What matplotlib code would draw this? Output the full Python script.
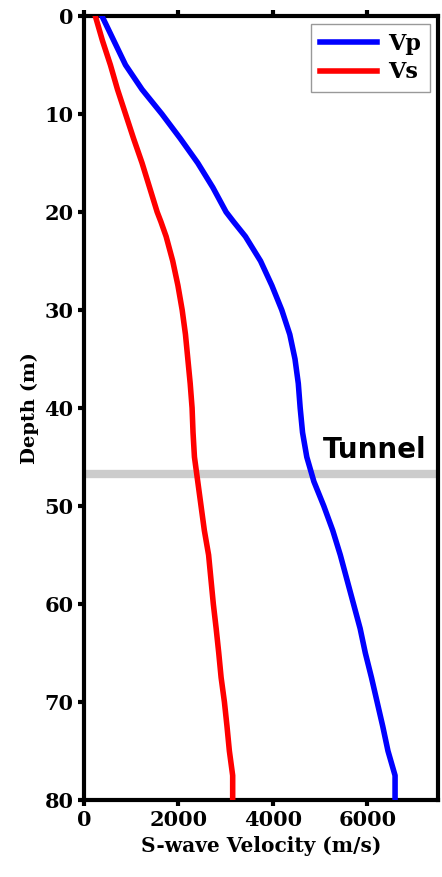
import numpy as np
import matplotlib
matplotlib.use("Agg")
import matplotlib.pyplot as plt

# profundidades (m) y velocidades (m/s)
depth = [0, 2.5, 5, 7.5, 10, 12.5, 15, 17.5, 20, 21, 22.5, 25, 27.5, 30, 32.5, 35,
         37.5, 40, 42.5, 45, 47.5, 50, 52.5, 55, 57.5, 60, 62.5, 65, 67.5, 70,
         72.5, 75, 77.5, 80]
vp = [380, 630, 880, 1230, 1650, 2040, 2410, 2730, 3010, 3170, 3420, 3740, 3980,
      4190, 4360, 4470, 4540, 4580, 4630, 4720, 4870, 5080, 5270, 5430, 5570,
      5710, 5850, 5960, 6090, 6210, 6330, 6440, 6590, 6590]
vs = [240, 390, 560, 710, 880, 1050, 1230, 1390, 1550, 1630, 1740, 1880, 1990,
      2080, 2150, 2200, 2250, 2290, 2310, 2340, 2410, 2480, 2550, 2640, 2690,
      2740, 2800, 2855, 2905, 2975, 3030, 3080, 3150, 3150]

tunnel_depth = 46.7
xticks = [0, 2000, 4000, 6000]
yticks = [0, 10, 20, 30, 40, 50, 60, 70, 80]

plt.rcParams['font.family'] = 'DejaVu Serif'
plt.rcParams['font.weight'] = 'bold'

fig = plt.figure(figsize=(4.42, 8.77), dpi=100)
ax = fig.add_axes([0.19, 0.0878, 0.801, 0.894])

ax.axhline(tunnel_depth, color='#cccccc', lw=6, zorder=1)
ax.plot(vp, depth, color='blue', lw=4, label='Vp', zorder=3)
ax.plot(vs, depth, color='red', lw=4, label='Vs', zorder=3)

ax.text(7250, 45.1, 'Tunnel', family='DejaVu Sans', fontweight='bold',
        fontsize=20, ha='right', va='baseline')

ax.set_xlim(0, 7500)
ax.set_ylim(80, 0)
ax.set_xticks(xticks)
ax.set_yticks(yticks)
ax.tick_params(direction='out', length=4, width=3, labelsize=15, top=True, right=False)
for s in ax.spines.values():
    s.set_linewidth(3)

ax.set_xlabel('S-wave Velocity (m/s)', fontsize=14.5, fontweight='bold')
ax.set_ylabel('Depth (m)', fontsize=14, fontweight='bold')

leg = ax.legend(loc='upper right', fontsize=16, fancybox=False, edgecolor='gray',
                borderaxespad=0.35, handlelength=2.6, borderpad=0.4, labelspacing=0.3,
                handletextpad=0.5)
leg.get_frame().set_linewidth(1)

fig.savefig('out.png', dpi=100)
plt.close(fig)
